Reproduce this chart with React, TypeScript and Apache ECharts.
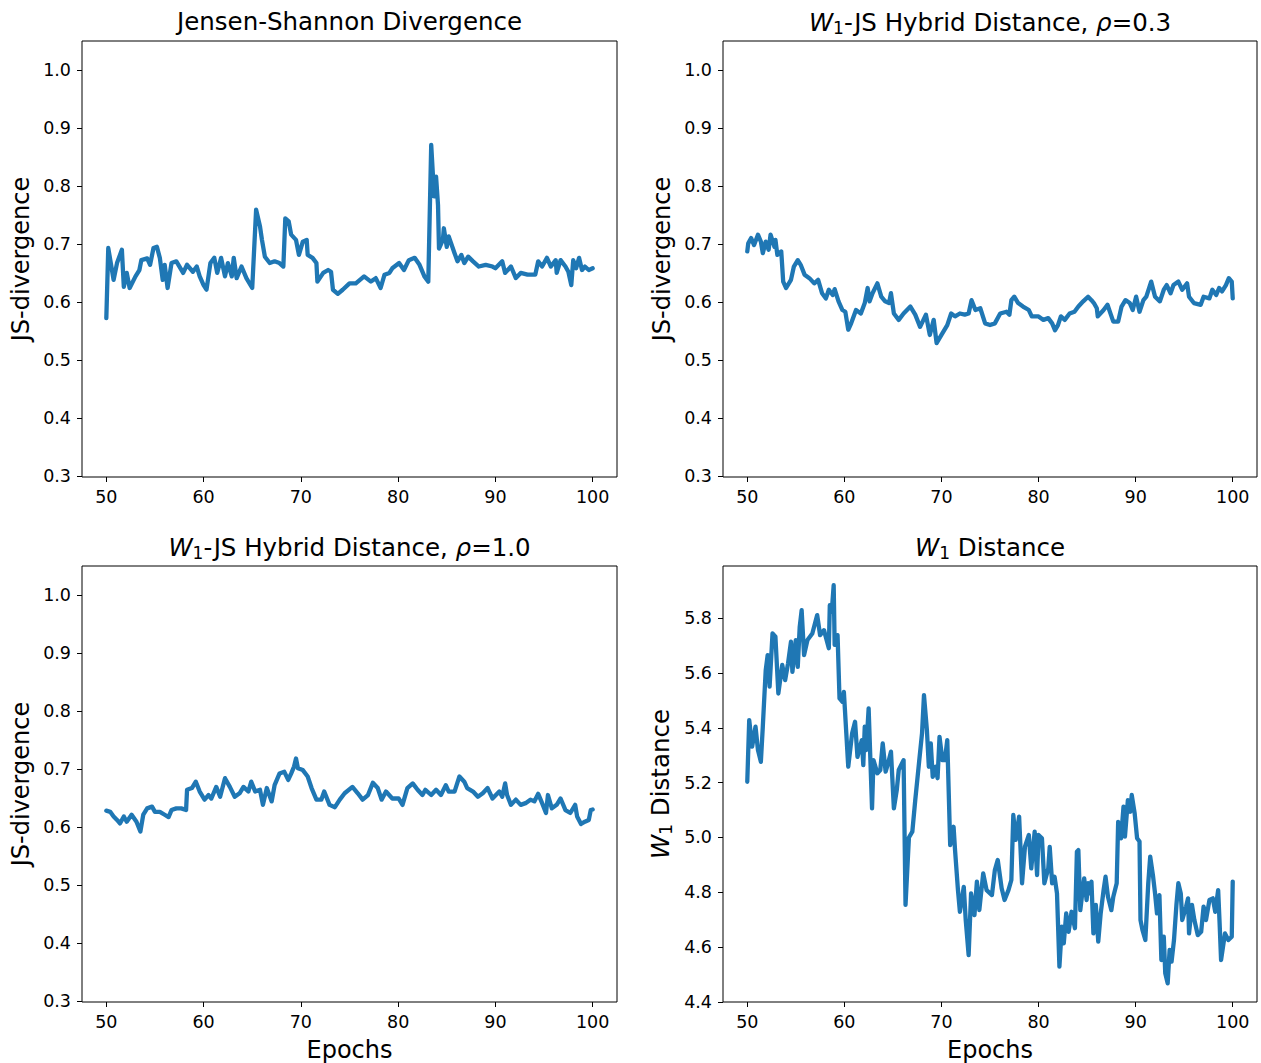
import React, { useEffect, useRef } from "react";
import * as echarts from "echarts";

// ---------- data ----------
const jsEpochs = [50.0, 50.2, 50.75, 51.1, 51.6, 51.8, 52.1, 52.4, 53.0, 53.4, 53.6, 54.2, 54.5, 54.85, 55.2, 55.5, 55.8, 56.0, 56.3, 56.7, 57.2, 57.9, 58.3, 58.9, 59.3, 59.6, 60.0, 60.3, 60.7, 61.1, 61.4, 61.8, 62.2, 62.5, 62.9, 63.1, 63.4, 63.9, 64.4, 65.0, 65.4, 65.8, 66.0, 66.3, 66.8, 67.3, 67.8, 68.2, 68.4, 68.75, 69.0, 69.5, 69.8, 70.2, 70.6, 70.7, 71.2, 71.6, 71.7, 72.3, 72.8, 73.1, 73.3, 73.8, 74.3, 75.0, 75.65, 76.5, 77.2, 77.7, 78.2, 78.6, 79.1, 79.4, 80.1, 80.6, 81.1, 81.7, 82.2, 82.7, 83.1, 83.4, 83.7, 83.9, 84.1, 84.2, 84.6, 84.7, 85.0, 85.2, 85.8, 86.1, 86.5, 86.8, 87.2, 87.7, 88.3, 89.0, 89.7, 90.0, 90.7, 91.0, 91.6, 92.1, 92.6, 93.3, 94.1, 94.4, 94.8, 95.3, 95.7, 96.2, 96.3, 96.7, 97.2, 97.5, 97.8, 98.0, 98.3, 98.6, 98.9, 99.2, 99.6, 100.0];
const jsValues = [0.572, 0.693, 0.638, 0.667, 0.690, 0.626, 0.650, 0.624, 0.644, 0.655, 0.672, 0.675, 0.664, 0.693, 0.695, 0.676, 0.638, 0.664, 0.624, 0.667, 0.670, 0.650, 0.664, 0.652, 0.661, 0.644, 0.629, 0.621, 0.667, 0.676, 0.650, 0.676, 0.644, 0.667, 0.644, 0.676, 0.641, 0.661, 0.641, 0.624, 0.759, 0.730, 0.707, 0.678, 0.667, 0.670, 0.667, 0.661, 0.744, 0.739, 0.716, 0.707, 0.681, 0.704, 0.707, 0.681, 0.676, 0.667, 0.635, 0.650, 0.655, 0.652, 0.621, 0.614, 0.621, 0.632, 0.632, 0.644, 0.635, 0.641, 0.624, 0.647, 0.650, 0.658, 0.667, 0.655, 0.672, 0.676, 0.664, 0.644, 0.635, 0.871, 0.782, 0.816, 0.767, 0.692, 0.707, 0.727, 0.695, 0.713, 0.684, 0.670, 0.681, 0.667, 0.678, 0.670, 0.661, 0.664, 0.661, 0.658, 0.670, 0.650, 0.661, 0.641, 0.650, 0.647, 0.647, 0.670, 0.661, 0.676, 0.661, 0.672, 0.650, 0.672, 0.661, 0.652, 0.629, 0.672, 0.658, 0.676, 0.655, 0.661, 0.655, 0.658];

const h03Epochs = [50.0, 50.1, 50.4, 50.7, 51.1, 51.4, 51.6, 51.9, 52.2, 52.4, 52.8, 52.9, 53.1, 53.5, 53.7, 54.0, 54.5, 54.8, 55.2, 55.5, 55.9, 56.4, 56.9, 57.3, 57.7, 58.1, 58.4, 58.8, 59.0, 59.4, 59.8, 60.1, 60.4, 60.7, 61.2, 61.7, 62.1, 62.4, 62.6, 62.9, 63.4, 63.8, 64.2, 64.6, 64.8, 65.1, 65.6, 66.1, 66.8, 67.3, 67.8, 68.4, 68.8, 69.2, 69.5, 70.0, 70.6, 71.0, 71.4, 71.9, 72.4, 72.8, 73.1, 73.5, 74.0, 74.5, 75.0, 75.5, 76.05, 76.7, 77.0, 77.2, 77.5, 77.9, 78.4, 79.0, 79.3, 80.0, 80.5, 81.0, 81.4, 81.7, 82.0, 82.3, 82.7, 83.2, 83.7, 84.1, 84.6, 85.1, 85.45, 85.7, 86.0, 86.1, 86.7, 87.1, 87.45, 87.7, 88.2, 88.55, 88.95, 89.4, 89.7, 90.05, 90.4, 90.8, 91.1, 91.6, 92.0, 92.5, 92.9, 93.2, 93.6, 93.9, 94.4, 94.8, 95.3, 95.5, 96.0, 96.7, 97.0, 97.6, 97.9, 98.3, 98.6, 98.9, 99.3, 99.6, 99.9, 100.0];
const h03Values = [0.687, 0.701, 0.710, 0.698, 0.716, 0.704, 0.684, 0.704, 0.690, 0.716, 0.695, 0.707, 0.681, 0.687, 0.635, 0.624, 0.638, 0.661, 0.672, 0.664, 0.647, 0.641, 0.632, 0.638, 0.615, 0.606, 0.621, 0.612, 0.622, 0.601, 0.586, 0.583, 0.552, 0.563, 0.586, 0.580, 0.598, 0.624, 0.601, 0.615, 0.632, 0.609, 0.601, 0.598, 0.615, 0.580, 0.569, 0.580, 0.592, 0.578, 0.557, 0.578, 0.543, 0.569, 0.529, 0.543, 0.560, 0.580, 0.575, 0.580, 0.578, 0.580, 0.603, 0.586, 0.589, 0.563, 0.560, 0.563, 0.580, 0.583, 0.578, 0.603, 0.609, 0.598, 0.592, 0.586, 0.575, 0.575, 0.569, 0.572, 0.563, 0.551, 0.560, 0.575, 0.569, 0.580, 0.583, 0.592, 0.601, 0.609, 0.603, 0.598, 0.589, 0.575, 0.586, 0.595, 0.578, 0.566, 0.566, 0.592, 0.603, 0.598, 0.586, 0.609, 0.583, 0.603, 0.609, 0.635, 0.609, 0.601, 0.621, 0.629, 0.615, 0.629, 0.635, 0.621, 0.632, 0.609, 0.598, 0.595, 0.609, 0.606, 0.621, 0.612, 0.624, 0.618, 0.629, 0.641, 0.635, 0.606];

const h10Epochs = [50.0, 50.4, 50.75, 51.1, 51.4, 51.8, 52.1, 52.6, 53.1, 53.5, 53.8, 54.2, 54.7, 55.0, 55.5, 56.0, 56.4, 56.7, 57.2, 57.7, 58.2, 58.3, 58.8, 59.2, 59.6, 60.1, 60.5, 60.8, 61.3, 61.7, 62.2, 62.7, 63.2, 63.7, 64.1, 64.6, 64.9, 65.3, 65.8, 66.1, 66.5, 67.0, 67.3, 67.8, 68.3, 68.7, 69.0, 69.3, 69.5, 69.7, 70.2, 70.7, 71.1, 71.6, 72.1, 72.4, 72.95, 73.5, 74.0, 74.5, 75.3, 75.85, 76.35, 76.9, 77.4, 77.9, 78.3, 78.75, 79.4, 80.05, 80.45, 80.95, 81.5, 82.0, 82.5, 82.8, 83.4, 83.9, 84.4, 84.9, 85.2, 85.8, 86.3, 86.8, 87.1, 87.7, 88.2, 88.7, 89.2, 89.7, 90.4, 90.7, 91.0, 91.2, 91.6, 92.1, 92.6, 93.1, 93.6, 94.0, 94.4, 94.8, 95.2, 95.4, 95.8, 96.3, 96.7, 97.2, 97.7, 98.2, 98.4, 98.8, 99.2, 99.6, 99.8, 100.0];
const h10Values = [0.628, 0.626, 0.618, 0.612, 0.606, 0.618, 0.609, 0.621, 0.609, 0.592, 0.621, 0.632, 0.635, 0.626, 0.626, 0.621, 0.617, 0.629, 0.632, 0.632, 0.629, 0.664, 0.667, 0.678, 0.661, 0.647, 0.655, 0.649, 0.669, 0.652, 0.684, 0.669, 0.652, 0.658, 0.669, 0.661, 0.678, 0.661, 0.664, 0.638, 0.667, 0.644, 0.672, 0.692, 0.695, 0.681, 0.692, 0.704, 0.718, 0.701, 0.698, 0.687, 0.667, 0.647, 0.647, 0.661, 0.638, 0.634, 0.647, 0.658, 0.669, 0.658, 0.647, 0.655, 0.676, 0.667, 0.647, 0.661, 0.649, 0.649, 0.638, 0.667, 0.675, 0.664, 0.655, 0.664, 0.655, 0.664, 0.655, 0.672, 0.661, 0.661, 0.687, 0.678, 0.667, 0.661, 0.652, 0.658, 0.667, 0.649, 0.661, 0.652, 0.675, 0.655, 0.638, 0.647, 0.638, 0.641, 0.647, 0.644, 0.657, 0.641, 0.624, 0.655, 0.632, 0.638, 0.649, 0.629, 0.624, 0.638, 0.618, 0.605, 0.609, 0.612, 0.629, 0.630];

const w1Epochs = [50.0, 50.2, 50.5, 50.85, 51.1, 51.4, 51.6, 51.9, 52.1, 52.3, 52.6, 52.9, 53.2, 53.6, 53.9, 54.2, 54.5, 54.65, 55.0, 55.2, 55.4, 55.6, 55.85, 56.2, 56.7, 57.2, 57.5, 57.9, 58.4, 58.5, 58.7, 58.9, 59.0, 59.3, 59.5, 59.8, 59.95, 60.2, 60.4, 60.8, 61.1, 61.35, 61.8, 61.95, 62.1, 62.25, 62.5, 62.85, 63.0, 63.4, 63.7, 63.95, 64.25, 64.5, 64.8, 65.1, 65.4, 65.6, 66.1, 66.3, 66.65, 67.0, 67.3, 67.7, 68.0, 68.2, 68.5, 68.7, 68.9, 69.1, 69.4, 69.6, 69.8, 70.1, 70.35, 70.6, 70.9, 71.25, 71.4, 71.7, 71.9, 72.3, 72.5, 72.8, 73.05, 73.4, 73.65, 73.9, 74.3, 74.65, 75.2, 75.5, 75.8, 76.2, 76.5, 76.9, 77.2, 77.4, 77.65, 78.0, 78.3, 78.6, 79.0, 79.25, 79.6, 79.85, 80.0, 80.35, 80.6, 81.0, 81.15, 81.4, 81.65, 81.9, 82.15, 82.4, 82.6, 82.85, 83.1, 83.4, 83.75, 83.95, 84.1, 84.3, 84.5, 84.7, 84.95, 85.1, 85.3, 85.45, 85.65, 85.9, 86.15, 86.4, 86.7, 86.9, 87.15, 87.5, 87.7, 88.05, 88.2, 88.5, 88.75, 88.9, 89.2, 89.45, 89.6, 89.9, 90.15, 90.4, 90.5, 90.7, 91.0, 91.3, 91.5, 91.8, 92.0, 92.2, 92.45, 92.65, 92.9, 93.05, 93.3, 93.5, 93.7, 93.95, 94.2, 94.4, 94.65, 94.8, 95.2, 95.4, 95.5, 95.8, 96.05, 96.4, 96.75, 97.0, 97.25, 97.6, 97.95, 98.2, 98.5, 98.65, 98.8, 99.2, 99.55, 99.9, 100.0];
const w1Values = [5.203, 5.428, 5.331, 5.404, 5.319, 5.276, 5.404, 5.610, 5.665, 5.550, 5.744, 5.732, 5.525, 5.629, 5.574, 5.635, 5.714, 5.604, 5.720, 5.622, 5.768, 5.829, 5.665, 5.720, 5.744, 5.811, 5.738, 5.756, 5.690, 5.847, 5.823, 5.920, 5.702, 5.738, 5.507, 5.495, 5.531, 5.380, 5.258, 5.380, 5.422, 5.294, 5.355, 5.264, 5.404, 5.319, 5.471, 5.106, 5.282, 5.234, 5.246, 5.343, 5.240, 5.270, 5.313, 5.106, 5.173, 5.246, 5.282, 4.754, 5.000, 5.021, 5.136, 5.276, 5.380, 5.519, 5.392, 5.258, 5.343, 5.221, 5.258, 5.216, 5.367, 5.282, 5.282, 5.355, 4.972, 5.039, 4.954, 4.808, 4.729, 4.820, 4.699, 4.571, 4.796, 4.717, 4.839, 4.735, 4.869, 4.808, 4.790, 4.881, 4.918, 4.815, 4.772, 4.808, 4.845, 5.082, 4.991, 5.076, 4.833, 4.966, 5.009, 4.887, 5.021, 4.863, 5.009, 4.997, 4.833, 4.887, 4.966, 4.833, 4.857, 4.796, 4.529, 4.675, 4.614, 4.723, 4.656, 4.729, 4.669, 4.948, 4.954, 4.735, 4.796, 4.851, 4.772, 4.833, 4.796, 4.839, 4.650, 4.754, 4.620, 4.723, 4.808, 4.857, 4.784, 4.735, 4.784, 4.833, 5.057, 4.997, 5.112, 5.003, 5.136, 5.094, 5.155, 5.088, 4.997, 4.985, 4.699, 4.663, 4.626, 4.833, 4.930, 4.857, 4.796, 4.723, 4.790, 4.553, 4.638, 4.505, 4.468, 4.590, 4.547, 4.626, 4.754, 4.833, 4.796, 4.699, 4.748, 4.778, 4.650, 4.754, 4.699, 4.644, 4.656, 4.748, 4.699, 4.772, 4.778, 4.729, 4.808, 4.687, 4.553, 4.650, 4.626, 4.638, 4.839];

const xTicks = [50, 60, 70, 80, 90, 100];
const jsTicks = [0.3, 0.4, 0.5, 0.6, 0.7, 0.8, 0.9, 1.0];
const w1Ticks = [4.4, 4.6, 4.8, 5.0, 5.2, 5.4, 5.6, 5.8];

const pairs = (xs: number[], ys: number[]) => xs.map((x, i) => [x, ys[i]]);

const FONT = "DejaVu Sans";
const BLUE = "#1f77b4";

export default function App() {
  const ref = useRef<HTMLDivElement>(null);

  useEffect(() => {
    if (!ref.current) return;
    const chart = echarts.init(ref.current, null, { renderer: "svg" });

    const grids = [
      { left: 82, top: 41, width: 535, height: 436 },
      { left: 723, top: 41, width: 534, height: 436 },
      { left: 82, top: 566, width: 535, height: 436 },
      { left: 723, top: 566, width: 534, height: 436 },
    ].map((g) => ({ ...g, show: true, borderColor: "#000", borderWidth: 1, backgroundColor: "transparent" }));

    const tickFont = { fontFamily: FONT, fontSize: 17.5, color: "#000" };
    const nameFont = { fontFamily: FONT, fontSize: 24, color: "#000" };
    const rich = {
      w: { fontFamily: FONT, fontSize: 24.5, fontStyle: "italic", color: "#000" },
      s: { fontFamily: FONT, fontSize: 17, color: "#000", verticalAlign: "bottom", padding: [10, 0, 0, 0] },
      n: { fontFamily: FONT, fontSize: 24.5, color: "#000" },
    };

    const xAxes = [0, 1, 2, 3].map((i) => ({
      type: "value",
      gridIndex: i,
      min: 47.5,
      max: 102.5,
      name: i >= 2 ? "Epochs" : "",
      nameLocation: "middle",
      nameGap: 36,
      nameTextStyle: nameFont,
      axisLine: { show: false },
      axisTick: { show: true, length: 5, lineStyle: { color: "#000", width: 1 }, customValues: xTicks },
      axisLabel: { show: true, margin: 11, ...tickFont, customValues: xTicks, formatter: (v: number) => String(Math.round(v)) },
      splitLine: { show: false },
    }));

    const yAxes = [0, 1, 2, 3].map((i) => {
      const isW = i === 3;
      const ticks = isW ? w1Ticks : jsTicks;
      return {
        type: "value",
        gridIndex: i,
        min: isW ? 4.4 : 0.298,
        max: isW ? 5.99 : 1.05,
        name: isW ? "{w|W}{s|1}{n| Distance}" : "JS-divergence",
        nameLocation: "middle",
        nameGap: 49,
        nameRotate: 90,
        nameTextStyle: { ...nameFont, rich },
        axisLine: { show: false },
        axisTick: { show: true, length: 5, lineStyle: { color: "#000", width: 1 }, customValues: ticks },
        axisLabel: { show: true, margin: 11, ...tickFont, customValues: ticks, formatter: (v: number) => v.toFixed(1) },
        splitLine: { show: false },
      };
    });

    const titleStyle = { fontFamily: FONT, fontSize: 24.5, fontWeight: "normal", color: "#000", rich };
    const titles = [
      { text: "Jensen-Shannon Divergence", left: 349.5, top: 9 },
      { text: "{w|W}{s|1}{n|-JS Hybrid Distance, }{w|ρ}{n|=0.3}", left: 990, top: 9 },
      { text: "{w|W}{s|1}{n|-JS Hybrid Distance, }{w|ρ}{n|=1.0}", left: 349.5, top: 534 },
      { text: "{w|W}{s|1}{n| Distance}", left: 990, top: 534 },
    ].map((t) => ({ ...t, textAlign: "center", padding: 0, textStyle: titleStyle }));

    const sets = [
      pairs(jsEpochs, jsValues),
      pairs(h03Epochs, h03Values),
      pairs(h10Epochs, h10Values),
      pairs(w1Epochs, w1Values),
    ];

    chart.setOption({
      animation: false,
      backgroundColor: "#fff",
      title: titles,
      grid: grids,
      xAxis: xAxes,
      yAxis: yAxes,
      series: sets.map((d, i) => ({
        type: "line",
        xAxisIndex: i,
        yAxisIndex: i,
        data: d,
        showSymbol: false,
        symbol: "none",
        lineStyle: { color: BLUE, width: 4.3, cap: "round", join: "round" },
        clip: true,
      })),
    });

    return () => chart.dispose();
  }, []);

  return (
    <div
      ref={ref}
      style={{ position: "fixed", left: 0, top: 0, width: 1261, height: 1063, background: "#fff" }}
    />
  );
}
